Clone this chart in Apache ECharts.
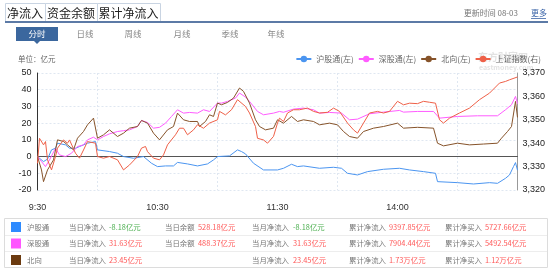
<!DOCTYPE html>
<html><head><meta charset="utf-8">
<script src="https://cdn.jsdelivr.net/npm/echarts@6/dist/echarts.min.js"></script>
<style>html,body{margin:0;padding:0;background:#fff}#c{width:554px;height:273px}</style>
</head><body><div id="c"></div>
<script>
// x-axis: trading minutes 0..240 (9:30-11:30, 13:01-15:00)
const tickIdx = [0, 60, 120, 180];
const tickLabels = ['9:30', '10:30', '11:30', '14:00'];
const leftTicks = [-20, -10, 0, 10, 20, 30, 40, 50];
const rightTicks = [3320, 3330, 3340, 3350, 3360, 3370];

// 沪股通 (亿元)
const shMin = [0,3,5,7,9,10,14,16,19,21,25,29,30,36,40,43,48,53,57,60,64,68,70,71,75,80,85,88,90,96,100,102,104,108,113,120,123,127,130,133,141,148,152,155,160,165,173,181,186,193,199,200,210,218,226,230,234,236,238,239,240];
const shVal = [0,-3,-1.5,4,5,8,7,5,5,6,8,9,4,3,2,0,-1,0,-4,-6,-5.6,-5.6,-3.5,-4,-4.4,-5.6,-4.4,-2,0,0.4,4,3,1.6,-4,-8,-8,-7,-4.6,-6,-5.6,-7,-6.4,-7,-10,-11,-9,-7.6,-7,-8,-9,-10,-15,-15.6,-16.4,-15.6,-16,-13,-11,-6,-3.6,-8.18];

// 深股通 (亿元)
const szMin = [0,2,4,6,9,11,14,17,20,23,25,28,30,33,36,40,43,46,50,52,55,58,61,64,67,70,73,76,80,83,86,90,92,95,99,101,104,106,110,113,118,121,123,128,133,138,141,146,152,156,160,166,173,181,183,190,198,201,210,220,230,234,237,239,240];
const szVal = [0,-3,-6,-2,5,1,0,2,6,7,10,11.6,10,12,13.6,15,15.5,16,18,21.6,20.4,17,17.5,20,24,28,26,26.4,26,28,27,32,32,33,35,38,35.6,33,27,25,26,27,26.5,28.4,29,28,26,26.4,26,22,22.4,25.6,26.6,27.6,26.6,27,27,23,24,24.4,24.4,28,31,36,31.63];

// 北向 (亿元)
const nbMin = [0,2,3,5,8,10,13,15,18,20,23,25,28,29,30,33,36,40,43,46,50,52,55,58,61,65,68,70,73,76,80,81,84,86,88,90,92,95,98,101,103,106,109,111,114,118,120,123,127,130,133,138,141,146,150,153,156,160,163,168,173,180,183,190,198,200,203,210,216,223,230,232,235,237,239,240];
const nbVal = [0,-8,-15,-8,-2,10,9,7,4,11,15,19,23,22,11,13,16,12,14,17,18,21.6,20,14,10,16,18,26,22,21,21,18,21,25,24,32,31,32.4,35,41,39,32,22,18,16,17,22,20,24,21,22,21,19,20,19,15,12,11,15,17,18,20,17,17.5,17,8,6.4,8,7,7.5,8,11,15,18,33,23.45];

// 上证指数
const idxMin = [0,1,3,4,5,7,9,10,13,15,16,19,21,23,25,29,30,33,36,40,43,46,50,52,54,55,58,61,63,65,69,71,73,75,78,80,83,86,90,91,94,97,100,104,106,109,110,113,115,118,120,121,123,125,128,131,135,138,141,145,148,151,155,158,160,163,166,170,173,176,180,183,186,190,193,196,199,201,203,206,211,216,221,226,231,234,236,240];
const idxVal = [3331.4,3342.1,3339.3,3340.7,3332.9,3328.6,3334.3,3337.9,3341.4,3340,3341.4,3335.7,3333.6,3337.1,3340.7,3340,3334.3,3333.6,3334.3,3332.9,3328.6,3330.7,3334.3,3337.9,3338.6,3336.4,3333.6,3332.9,3335,3339.3,3343.6,3346.4,3346.4,3343.6,3345.7,3347.9,3346.4,3348.6,3350,3353.6,3352.1,3354.3,3358.6,3355.7,3352.9,3347.1,3342.1,3341.4,3340,3342.9,3348.6,3350.7,3349.3,3352.9,3354.3,3354.3,3355,3353.6,3352.9,3353.2,3355,3353.6,3348.6,3345.7,3344.3,3348.6,3352.9,3353.6,3352.9,3353.6,3357.9,3356.4,3357.1,3356.9,3357.9,3357.5,3357.1,3350,3348.6,3350.7,3352.9,3355,3358.6,3361.4,3365.7,3366.4,3367.1,3368.3];

// table
const rowNames = ['沪股通', '深股通', '北向'];
const dayNet = ['-8.18亿元', '31.63亿元', '23.45亿元'];
const dayBal = ['528.18亿元', '488.37亿元', ''];
const monthNet = ['-8.18亿元', '31.63亿元', '23.45亿元'];
const cumNet = ['9397.85亿元', '7904.44亿元', '1.73万亿元'];
const cumBuy = ['5727.66亿元', '5492.54亿元', '1.12万亿元'];

const C_SH = '#4b95f0', C_SZ = '#ff5cff', C_NB = '#86532a', C_IDX = '#ee6048';
const FONT = '"Noto Sans CJK SC", sans-serif';
const NUMF = '"Liberation Sans", Arial, sans-serif';

const cats = [];
for (let i = 0; i <= 240; i++) cats.push(i);
const zip = (a, b) => a.map((m, i) => [m, b[i]]);

const g = [];
// header tabs
const tabs = [['净流入', 5, 45], ['资金余额', 45, 97], ['累计净流入', 97, 160]];
tabs.forEach(([t, x0, x1]) => {
  g.push({type: 'rect', shape: {x: x0 + 0.5, y: 3.5, width: x1 - x0, height: 18}, style: {fill: '#fff', stroke: '#c9d4e2', lineWidth: 1}});
  g.push({type: 'text', style: {text: t, x: (x0 + x1) / 2, y: 13, textAlign: 'center', textVerticalAlign: 'middle', fill: '#222', font: '12px ' + FONT}});
});
g.push({type: 'rect', shape: {x: 5, y: 21, width: 543, height: 2}, style: {fill: '#5c7aa6'}});
g.push({type: 'text', style: {text: '更新时间 08-03', x: 518, y: 13, textAlign: 'right', textVerticalAlign: 'middle', fill: '#777', font: '8px ' + FONT}});
g.push({type: 'text', style: {text: '更多', x: 531, y: 13, textAlign: 'left', textVerticalAlign: 'middle', fill: '#3b64a8', font: '8px ' + FONT}});
g.push({type: 'rect', shape: {x: 531, y: 18, width: 15, height: 0.8}, style: {fill: '#3b64a8'}});
// sub tabs
g.push({type: 'rect', shape: {x: 16, y: 27, width: 42, height: 14}, style: {fill: '#3b679e'}});
g.push({type: 'polygon', shape: {points: [[34, 41], [40, 41], [37, 44]]}, style: {fill: '#3b679e'}});
g.push({type: 'text', style: {text: '分时', x: 37, y: 34, textAlign: 'center', textVerticalAlign: 'middle', fill: '#fff', font: '8.5px ' + FONT}});
[['日线', 85], ['周线', 133], ['月线', 182], ['季线', 230], ['年线', 276]].forEach(([t, x]) => {
  g.push({type: 'text', style: {text: t, x: x, y: 34, textAlign: 'center', textVerticalAlign: 'middle', fill: '#888', font: '8.5px ' + FONT}});
});
g.push({type: 'text', style: {text: '单位：亿元', x: 18, y: 59, textAlign: 'left', textVerticalAlign: 'middle', fill: '#666', font: '7.5px ' + FONT}});
// watermark
g.push({type: 'text', style: {text: '东方财富网', x: 478, y: 57, textAlign: 'left', textVerticalAlign: 'middle', fill: 'rgba(190,190,190,0.45)', font: 'bold 10px ' + FONT}});
g.push({type: 'text', style: {text: 'eastmoney.com', x: 479, y: 67, textAlign: 'left', textVerticalAlign: 'middle', fill: 'rgba(190,190,190,0.45)', font: 'bold 7px ' + FONT}});
// table
g.push({type: 'rect', shape: {x: 4.5, y: 218.5, width: 543, height: 49}, style: {fill: 'none', stroke: '#dcdcdc', lineWidth: 1}});
g.push({type: 'rect', shape: {x: 4.5, y: 235, width: 543, height: 0.5}, style: {fill: '#dcdcdc'}});
g.push({type: 'rect', shape: {x: 4.5, y: 251.5, width: 543, height: 0.5}, style: {fill: '#dcdcdc'}});
const rowColors = ['#2e8bff', '#ff55ff', '#6b3a0f'];
const valColor = v => v.trim().startsWith('-') ? '#4caf50' : '#ff5a5a';
rowNames.forEach((n, r) => {
  const y = 227 + r * 16.5;
  const T = (text, x, fill) => g.push({type: 'text', style: {text, x, y, textAlign: 'left', textVerticalAlign: 'middle', fill, font: '7.4px ' + FONT}});
  g.push({type: 'rect', shape: {x: 11, y: y - 5, width: 10, height: 10}, style: {fill: rowColors[r]}});
  T(n, 27, '#777');
  T('当日净流入', 69, '#777'); T(dayNet[r], 109, valColor(dayNet[r]));
  if (dayBal[r]) { T('当日余额', 165, '#777'); T(dayBal[r], 198, valColor(dayBal[r])); }
  T('当月净流入', 252, '#777'); T(monthNet[r], 293, valColor(monthNet[r]));
  T('累计净流入', 349, '#777'); T(cumNet[r], 389, valColor(cumNet[r]));
  T('累计净买入', 445, '#777'); T(cumBuy[r], 485, valColor(cumBuy[r]));
});

const lineS = (name, data, color, yi) => ({
  name, type: 'line', data, yAxisIndex: yi, xAxisIndex: 0, symbol: 'circle', symbolSize: 8, showSymbol: false,
  lineStyle: {width: 1, color}, itemStyle: {color}, smooth: false, animation: false
});

const chart = echarts.init(document.getElementById('c'), null, {renderer: 'canvas'});
chart.setOption({
  animation: false,
  grid: {left: 37.5, right: 36.5, top: 73, bottom: 83, containLabel: false},
  legend: {
    top: 50, right: 8, itemWidth: 15, itemHeight: 8, itemGap: 4,
    textStyle: {fontSize: 8, color: '#666', fontFamily: FONT},
    data: ['沪股通(左)', '深股通(左)', '北向(左)', '上证指数(右)']
  },
  xAxis: [{
    type: 'category', data: cats, boundaryGap: false,
    axisLine: {show: false, onZero: false}, axisTick: {show: false},
    axisLabel: {interval: (i) => tickIdx.includes(i), formatter: (v) => tickLabels[tickIdx.indexOf(Number(v))] || '', color: '#333', fontSize: 9, margin: 13, fontFamily: NUMF},
    splitLine: {show: true, interval: (i) => i % 60 === 30, lineStyle: {color: '#dfe7f1', type: [2, 2]}}
  }, {
    type: 'category', data: cats, boundaryGap: false, position: 'bottom',
    axisLine: {show: true, onZero: true, onZeroAxisIndex: 0, lineStyle: {color: '#555', width: 1}},
    axisTick: {show: false}, axisLabel: {show: false}, splitLine: {show: false}
  }],
  yAxis: [{
    type: 'value', min: -20, max: 50, interval: 10, position: 'left',
    axisLine: {show: true, lineStyle: {color: '#333'}}, axisTick: {show: false},
    axisLabel: {color: '#222', fontSize: 9, margin: 6, fontFamily: NUMF},
    splitLine: {show: true, lineStyle: {color: '#dfe7f1', type: [2, 2]}}
  }, {
    type: 'value', min: 3320, max: 3370, interval: 10, position: 'right',
    axisLine: {show: true, lineStyle: {color: '#999'}}, axisTick: {show: false},
    axisLabel: {color: '#222', fontSize: 9, margin: 5, fontFamily: NUMF,
      formatter: (v) => String(v).replace(/\B(?=(\d{3})+(?!\d))/g, ',')},
    splitLine: {show: false}
  }],
  series: [
    lineS('沪股通(左)', zip(shMin, shVal), C_SH, 0),
    lineS('深股通(左)', zip(szMin, szVal), C_SZ, 0),
    lineS('北向(左)', zip(nbMin, nbVal), C_NB, 0),
    lineS('上证指数(右)', zip(idxMin, idxVal), C_IDX, 1)
  ],
  graphic: g
});
</script></body></html>
